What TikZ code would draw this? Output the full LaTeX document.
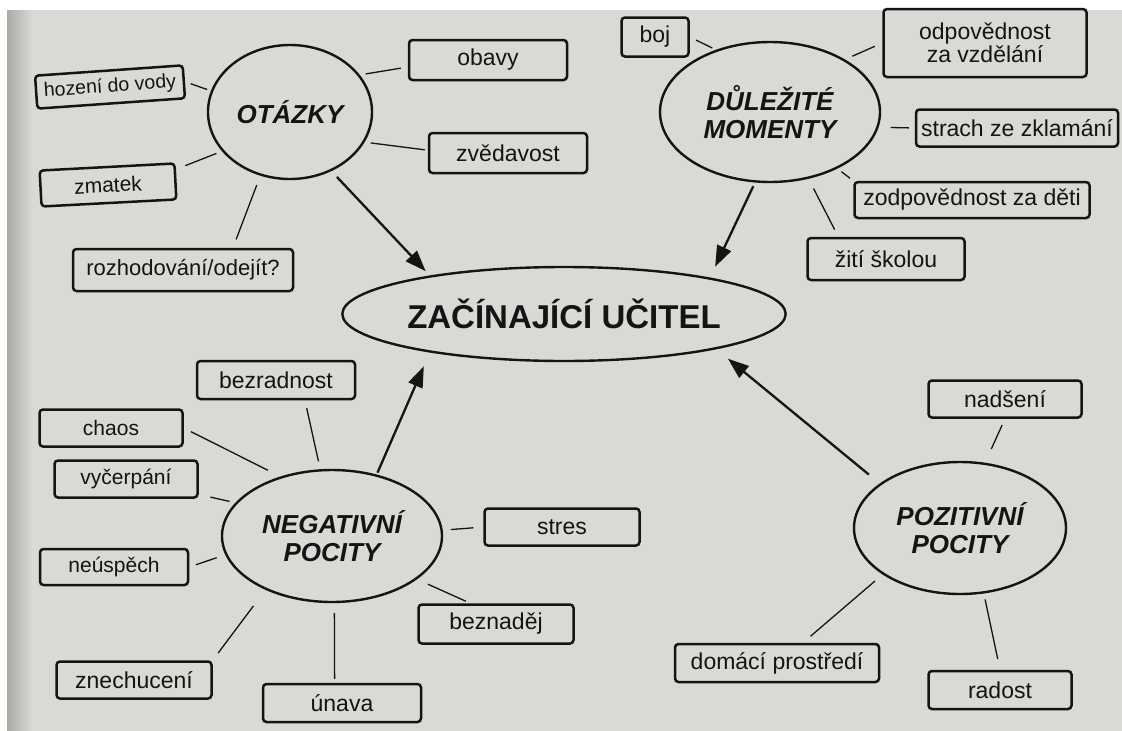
\documentclass[tikz,border=0pt]{standalone}
\usepackage{fontspec}
\setmainfont{Liberation Sans}
\usetikzlibrary{shapes.geometric,arrows.meta}
\definecolor{page}{RGB}{217,217,214}
\definecolor{pageshade}{RGB}{170,170,167}
\definecolor{ink}{RGB}{20,20,20}
\begin{document}
\begin{tikzpicture}[x=1pt,y=-1pt,
  box/.style={draw=ink, line width=2.5pt, rounded corners=3.5pt, inner sep=0pt,
    font=\fontsize{23}{23}\selectfont, text=ink, align=center},
  small/.style={font=\fontsize{21}{22}\selectfont},
  hub/.style={ellipse, draw=ink, line width=2.4pt, inner sep=0pt, align=center,
    font=\fontsize{26}{28}\selectfont\bfseries\itshape, text=ink},
  conn/.style={draw=ink, line width=1.3pt},
  arr/.style={draw=ink, line width=2.3pt, -{Triangle[length=21pt,width=15pt]}},
]
\useasboundingbox (0,0) rectangle (1122,731);
\fill[white] (0,0) rectangle (1122,731);
\fill[page] (7,10) rectangle (1122,731);
\shade[left color=pageshade, right color=page] (7,10) rectangle (32,731);

% hubs
\node[hub, minimum width=164pt, minimum height=134pt] (ot) at (290,112) {OTÁZKY};
\node[hub, minimum width=220pt, minimum height=140pt] (dm) at (770,112) {DŮLEŽITÉ\\MOMENTY};
\node[ellipse, draw=ink, line width=2.4pt, inner sep=0pt, minimum width=354pt, minimum height=94pt,
  font=\fontsize{33}{35}\selectfont\bfseries, text=ink] (zac) at (564,314) {ZAČÍNAJÍCÍ UČITEL};
\node[hub, minimum width=220pt, minimum height=132pt] (neg) at (332,536) {NEGATIVNÍ\\POCITY};
\node[hub, minimum width=212pt, minimum height=132pt] (poz) at (960,528) {POZITIVNÍ\\POCITY};

% boxes
\node[box, font=\fontsize{19.5}{20}\selectfont, minimum width=148pt, minimum height=33pt, rotate=4] (hoz) at (110,87) {hození do vody};
\node[box, minimum width=158pt, minimum height=40pt] (obavy) at (488,60) {obavy};
\node[box, minimum width=158pt, minimum height=40pt] (zved) at (508,153) {zvědavost};
\node[box, small, minimum width=135pt, minimum height=36pt, rotate=3] (zmatek) at (108,185) {zmatek};
\node[box, font=\fontsize{22}{23}\selectfont, minimum width=220pt, minimum height=42pt] (roz) at (183,270) {rozhodování/odejít?};
\node[box, minimum width=67pt, minimum height=39pt] (boj) at (655,37) {boj};
\node[box, font=\fontsize{23}{23}\selectfont, minimum width=203pt, minimum height=68pt] (odp) at (985,43) {odpovědnost\\za vzdělání};
\node[box, minimum width=202pt, minimum height=37pt] (strach) at (1017,128) {strach ze zklamání};
\node[box, minimum width=235pt, minimum height=36pt] (zod) at (972,200) {zodpovědnost za děti};
\node[box, minimum width=157pt, minimum height=42pt] (ziti) at (886,259) {žití školou};
\node[box, minimum width=158pt, minimum height=38pt] (bez) at (276,380) {bezradnost};
\node[box, small, minimum width=143pt, minimum height=37pt] (chaos) at (111,428) {chaos};
\node[box, small, minimum width=143pt, minimum height=37pt] (vyc) at (126,479) {vyčerpání};
\node[box, small, minimum width=148pt, minimum height=36pt] (neu) at (114,567) {neúspěch};
\node[box, minimum width=155pt, minimum height=37pt] (zne) at (134,680) {znechucení};
\node[box, minimum width=158pt, minimum height=38pt] (una) at (342,703) {únava};
\node[box, minimum width=155pt, minimum height=37pt] (stres) at (562,527) {stres};
\node[box, minimum width=155pt, minimum height=39pt] (bzn) at (496,624) {beznaděj};
\node[box, minimum width=204pt, minimum height=38pt] (dom) at (777,663) {domácí prostředí};
\node[box, minimum width=143pt, minimum height=38pt] (rad) at (1000,690) {radost};
\node[box, minimum width=153pt, minimum height=37pt] (nad) at (1005,399) {nadšení};

% connectors OTÁZKY
\draw[conn, shorten <=6pt, shorten >=4pt] (hoz.east) -- (ot.165);
\draw[conn, shorten <=7pt, shorten >=6pt] (obavy.185) -- (ot.28);
\draw[conn, shorten <=3pt, shorten >=6pt] (zved.178) -- (ot.-22);
\draw[conn, shorten <=10pt, shorten >=6pt] (zmatek.10) -- (ot.210);
\draw[conn, shorten <=9pt, shorten >=10pt] (roz.24) -- (ot.245);
% connectors DŮLEŽITÉ MOMENTY
\draw[conn, shorten <=7pt, shorten >=4pt] (boj.east) -- (dm.131);
\draw[conn, shorten <=8pt, shorten >=8pt] (odp.west) -- (dm.35);
\draw[conn, shorten <=6pt, shorten >=12pt] (strach.west) -- (dm.-8);
\draw[conn, shorten <=4pt, shorten >=5pt] (zod.north west) -- (dm.-40);
\draw[conn, shorten <=8pt, shorten >=11pt] (ziti.155) -- (dm.-60);
% connectors NEGATIVNÍ POCITY
\draw[conn, shorten <=8pt, shorten >=8pt] (bez.-35) -- (neg.100);
\draw[conn, shorten <=8pt, shorten >=14pt] (chaos.east) -- (neg.131);
\draw[conn, shorten <=12pt, shorten >=6pt] (vyc.-12) -- (neg.161);
\draw[conn, shorten <=7pt, shorten >=9pt] (neu.east) -- (neg.190);
\draw[conn, shorten <=9pt, shorten >=20pt] (zne.north east) -- (neg.219);
\draw[conn, shorten <=4pt, shorten >=10pt] (una.110) -- (neg.-88);
\draw[conn, shorten <=10pt, shorten >=8pt] (stres.west) -- (neg.3);
\draw[conn, shorten <=5pt, shorten >=12pt] (bzn.141) -- (neg.-27);
% connectors POZITIVNÍ POCITY
\draw[conn, shorten <=7pt, shorten >=15pt] (nad.south) -- (poz.69);
\draw[conn, shorten <=11pt, shorten >=6pt] (rad.north) -- (poz.-70);
\draw[conn, shorten <=10pt, shorten >=10pt] (dom.38) -- (poz.211);

% arrows to centre
\draw[arr, shorten <=8pt, shorten >=6pt] (ot.-55) -- (zac.164);
\draw[arr, shorten <=4pt, shorten >=12pt] (dm.258) -- (zac.14);
\draw[arr, shorten <=2pt, shorten >=15pt] (neg.54) -- (zac.196);
\draw[arr, shorten <=14pt, shorten >=15pt] (poz.151) -- (zac.-13);
\end{tikzpicture}
\end{document}
